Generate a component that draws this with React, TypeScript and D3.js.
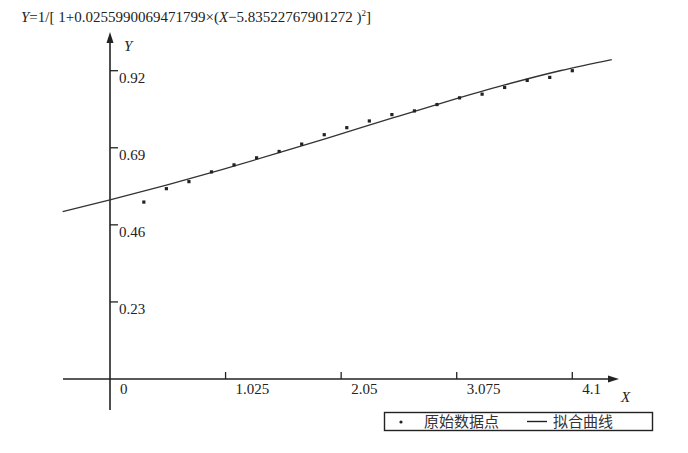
import React from "react";
import * as d3 from "d3";

// Original data points
const dataX = [0.3, 0.5, 0.7, 0.9, 1.1, 1.3, 1.5, 1.7, 1.9, 2.1, 2.3, 2.5, 2.7, 2.9, 3.1, 3.3, 3.5, 3.7, 3.9, 4.1];
const dataY = [0.528, 0.568, 0.589, 0.618, 0.639, 0.66, 0.679, 0.701, 0.729, 0.75, 0.77, 0.789, 0.8, 0.819, 0.839, 0.85, 0.87, 0.891, 0.9, 0.92];

// Fitted curve
const fitX = [-0.42, 0, 0.5, 1, 1.5, 2, 2.5, 3, 3.5, 4, 4.45];
const fitY = [0.4996, 0.5343, 0.5785, 0.6256, 0.6752, 0.7265, 0.7784, 0.8293, 0.8775, 0.9206, 0.9532];

const xTicks = [1.025, 2.05, 3.075, 4.1];
const xTickLabels = ["1.025", "2.05", "3.075", "4.1"];
const yTicks = [0.23, 0.46, 0.69, 0.92];
const yTickLabels = ["0.23", "0.46", "0.69", "0.92"];

const legendLabels = ["原始数据点", "拟合曲线"];

export default function App() {
  const x = d3.scaleLinear().domain([0, 4.1]).range([110, 572.3]);
  const y = d3.scaleLinear().domain([0, 0.92]).range([379, 70.7]);

  const line = d3
    .line<number>()
    .x((_, i) => x(fitX[i]))
    .y((d) => y(d))
    .curve(d3.curveMonotoneX);

  const serif = "'Liberation Serif', 'Times New Roman', serif";
  const cjk = "'Noto Sans CJK SC', 'Noto Sans', sans-serif";
  const ink = "#222";

  const x0 = x(0);
  const y0 = y(0);

  return (
    <svg
      width={688}
      height={453}
      style={{ position: "absolute", left: 0, top: 0, background: "#fff" }}
    >
      {/* title formula */}
      <text x={21} y={22} fontFamily={serif} fontSize={15} fill={ink}>
        <tspan fontStyle="italic">Y</tspan>
        <tspan>=1/[ 1+0.0255990069471799×(</tspan>
        <tspan fontStyle="italic">X</tspan>
        <tspan>−5.83522767901272 )</tspan>
        <tspan fontSize={9} dy={-6}>2</tspan>
        <tspan dy={6}>]</tspan>
      </text>

      {/* y axis */}
      <line x1={x0} x2={x0} y1={410} y2={40} stroke={ink} strokeWidth={1.6} />
      <path d={`M${x0},32 L${x0 - 3.5},43 L${x0 + 3.5},43 Z`} fill={ink} />
      <text x={124} y={51} fontFamily={serif} fontStyle="italic" fontSize={15} fill={ink}>
        Y
      </text>
      {yTicks.map((t, i) => (
        <g key={"yt" + i}>
          <line x1={x0} x2={x0 + 8} y1={y(t)} y2={y(t)} stroke={ink} strokeWidth={1.3} />
          <text x={x0 + 9} y={y(t) + 12.5} fontFamily={serif} fontSize={15} fill={ink}>
            {yTickLabels[i]}
          </text>
        </g>
      ))}

      {/* x axis */}
      <line x1={63} x2={610} y1={y0} y2={y0} stroke={ink} strokeWidth={1.6} />
      <path d={`M619,${y0} L608,${y0 - 3.5} L608,${y0 + 3.5} Z`} fill={ink} />
      <text x={621} y={402} fontFamily={serif} fontStyle="italic" fontSize={15} fill={ink}>
        X
      </text>
      <text x={x0 + 10} y={y0 + 15} fontFamily={serif} fontSize={15} fill={ink}>
        0
      </text>
      {xTicks.map((t, i) => (
        <g key={"xt" + i}>
          <line x1={x(t)} x2={x(t)} y1={y0} y2={y0 - 7} stroke={ink} strokeWidth={1.3} />
          <text x={x(t) + 10} y={y0 + 15} fontFamily={serif} fontSize={15} fill={ink}>
            {xTickLabels[i]}
          </text>
        </g>
      ))}

      {/* fitted curve */}
      <path d={line(fitY) || ""} fill="none" stroke="#333" strokeWidth={1.3} />

      {/* data points */}
      {dataY.map((v, i) => (
        <rect
          key={"p" + i}
          x={x(dataX[i]) - 1.6}
          y={y(v) - 1.6}
          width={3.2}
          height={3.2}
          fill={ink}
        />
      ))}

      {/* legend */}
      <rect x={384.5} y={412.5} width={268} height={18} fill="#fff" stroke={ink} strokeWidth={1.4} />
      <circle cx={401} cy={422} r={1.6} fill={ink} />
      <text x={424} y={427} fontFamily={cjk} fontSize={15} fill="#333">
        {legendLabels[0]}
      </text>
      <line x1={527} x2={547} y1={421.5} y2={421.5} stroke={ink} strokeWidth={1.4} />
      <text x={553} y={427} fontFamily={cjk} fontSize={15} fill="#333">
        {legendLabels[1]}
      </text>
    </svg>
  );
}
